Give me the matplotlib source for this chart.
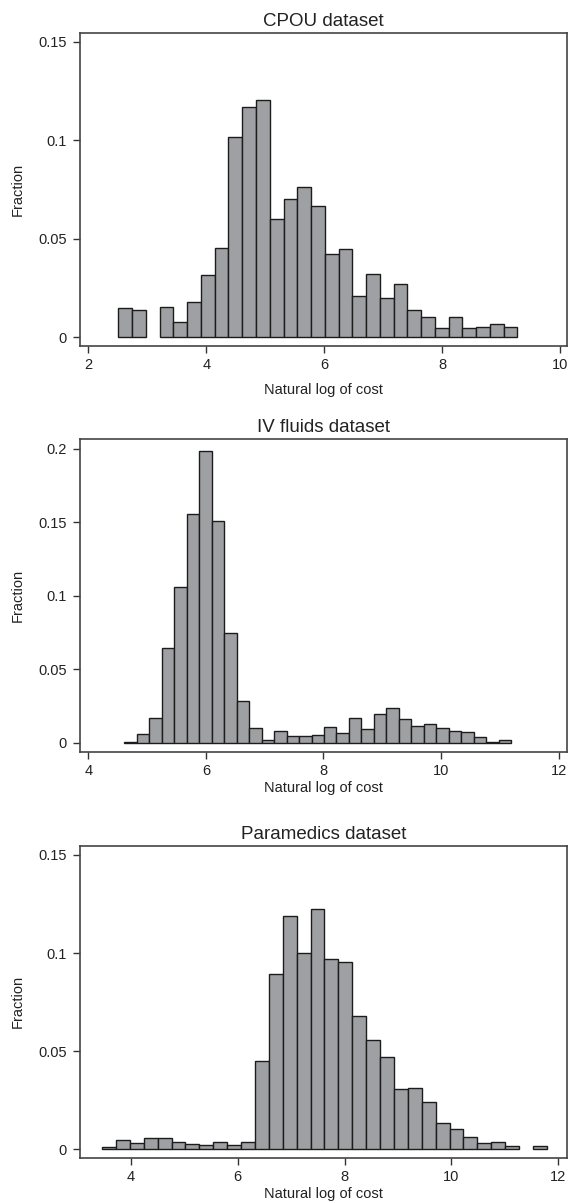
import matplotlib.pyplot as plt
import numpy as np

plt.rcParams['font.family'] = ['Liberation Sans', 'DejaVu Sans']

# histogram data: first bin edge, bin width, fraction per bin
cpou_start = 2.51
cpou_width = 0.2332
cpou_frac = [0.0147, 0.0137, 0.0, 0.0155, 0.0079, 0.0181, 0.0314, 0.0453, 0.1019,
             0.1169, 0.1202, 0.0598, 0.0700, 0.0762, 0.0667, 0.0422, 0.0446, 0.0208,
             0.0321, 0.0199, 0.0270, 0.0137, 0.0104, 0.0047, 0.0104, 0.0047, 0.0052,
             0.0067, 0.0052]

iv_start = 4.61
iv_width = 0.2125
iv_frac = [0.0007, 0.0057, 0.0168, 0.0642, 0.1059, 0.1553, 0.1984, 0.1510, 0.0744,
           0.0286, 0.0100, 0.0020, 0.0080, 0.0048, 0.0048, 0.0054, 0.0107, 0.0064,
           0.0168, 0.0091, 0.0193, 0.0234, 0.0159, 0.0116, 0.0125, 0.0100, 0.0082,
           0.0073, 0.0041, 0.0007, 0.0020]

para_start = 3.457
para_width = 0.2603
para_frac = [0.0013, 0.0046, 0.0032, 0.0058, 0.0058, 0.0039, 0.0026, 0.0020, 0.0039,
             0.0020, 0.0039, 0.0452, 0.0894, 0.1191, 0.0999, 0.1223, 0.0968, 0.0955,
             0.0681, 0.0556, 0.0472, 0.0306, 0.0311, 0.0243, 0.0136, 0.0102, 0.0064,
             0.0032, 0.0039, 0.0018, 0.0, 0.0018]

titles = ['CPOU dataset', 'IV fluids dataset', 'Paramedics dataset']
x_ticks = [[2, 4, 6, 8, 10], [4, 6, 8, 10, 12], [4, 6, 8, 10, 12]]
y_ticks = [[0, 0.05, 0.1, 0.15], [0, 0.05, 0.1, 0.15, 0.2], [0, 0.05, 0.1, 0.15]]
y_tick_labels = [['0', '0.05', '0.1', '0.15'], ['0', '0.05', '0.1', '0.15', '0.2'],
                 ['0', '0.05', '0.1', '0.15']]

datasets = [(cpou_start, cpou_width, cpou_frac),
            (iv_start, iv_width, iv_frac),
            (para_start, para_width, para_frac)]
xlims = [(1.85, 10.12), (3.85, 12.15), (3.036, 12.17)]
ylims = [(-0.0043, 0.1544), (-0.0061, 0.2064), (-0.0043, 0.1546)]
# axes boxes in figure fractions [left, bottom, width, height]
boxes = [[0.140, 0.7126, 0.8588, 0.2599],
         [0.140, 0.3752, 0.8588, 0.2597],
         [0.140, 0.0377, 0.8588, 0.2591]]
xlabel_pads = [8, 2, 2]

fig = plt.figure(figsize=(5.68, 12.03), dpi=100)

for i, (start, width, frac) in enumerate(datasets):
    ax = fig.add_axes(boxes[i])
    frac = np.array(frac)
    lefts = start + width * np.arange(len(frac))
    keep = frac > 0
    ax.bar(lefts[keep], frac[keep], width=width, align='edge',
           color='#9fa0a3', edgecolor='#1c1c1c', linewidth=1.0)

    ax.set_xlim(*xlims[i])
    ax.set_ylim(*ylims[i])
    ax.set_xticks(x_ticks[i])
    ax.set_yticks(y_ticks[i])
    ax.set_yticklabels(y_tick_labels[i])
    ax.tick_params(direction='out', length=5, width=1, colors='#333333',
                   labelsize=10.5, labelcolor='#222222', pad=4)
    for s in ax.spines.values():
        s.set_color('#444444')
        s.set_linewidth(1.2)

    ax.set_title(titles[i], fontsize=13.5, color='#222222', pad=5)
    ax.set_xlabel('Natural log of cost', fontsize=10.5, color='#222222',
                  labelpad=xlabel_pads[i])
    ax.set_ylabel('Fraction', fontsize=10.5, color='#222222', labelpad=10)

fig.savefig('out.png', dpi=100)
